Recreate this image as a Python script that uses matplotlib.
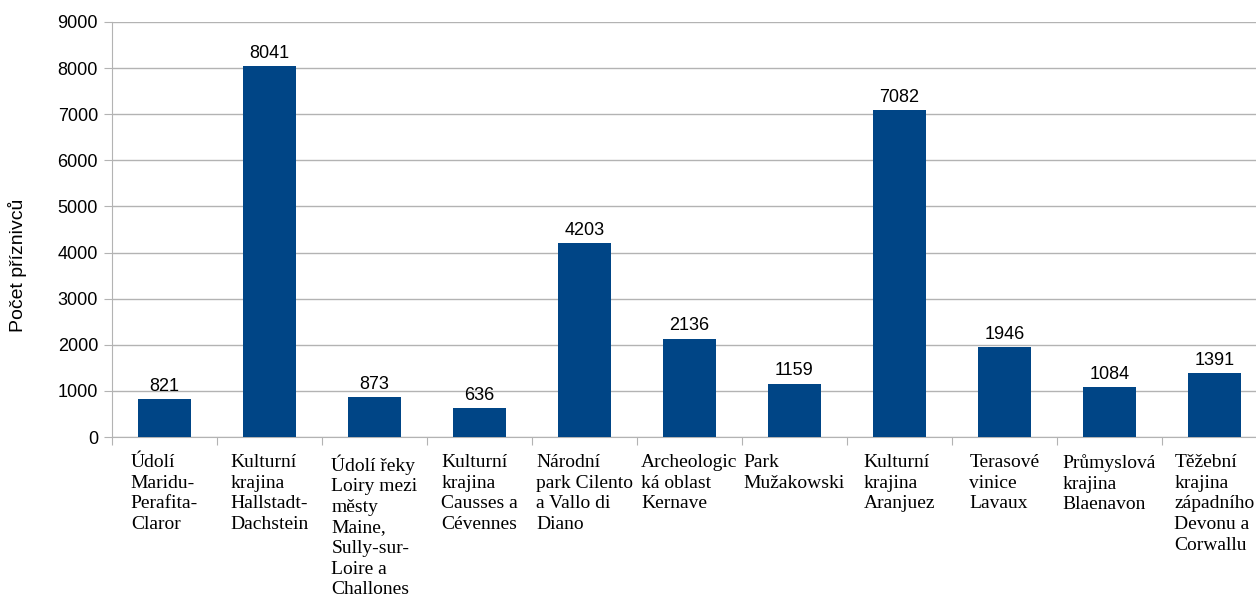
import matplotlib.pyplot as plt
import numpy as np

categories = [
    "Údolí\nMaridu-\nPerafita-\nClaror",
    "Kulturní\nkrajina\nHallstadt-\nDachstein",
    "Údolí řeky\nLoiry mezi\nměsty\nMaine,\nSully-sur-\nLoire a\nChallones",
    "Kulturní\nkrajina\nCausses a\nCévennes",
    "Národní\npark Cilento\na Vallo di\nDiano",
    "Archeologic\nká oblast\nKernave",
    "Park\nMužakowski",
    "Kulturní\nkrajina\nAranjuez",
    "Terasové\nvinice\nLavaux",
    "Průmyslová\nkrajina\nBlaenavon",
    "Těžební\nkrajina\nzápadního\nDevonu a\nCorwallu",
]
values = [821, 8041, 873, 636, 4203, 2136, 1159, 7082, 1946, 1084, 1391]
yticks = list(range(0, 9001, 1000))

grey = "#b3b3b3"
blue = "#004586"

W, H = 1256, 597
fig = plt.figure(figsize=(W / 100, H / 100), dpi=100)
# plot area runs a little past the right edge of the picture
ax = fig.add_axes([112 / W, 1 - 437 / H, (1267 - 112) / W, (437 - 22) / H])

x = np.arange(len(values))
ax.bar(x, values, width=0.5, color=blue, zorder=3)
for xi, v in zip(x, values):
    ax.text(xi, v + 90, str(v), ha="center", va="bottom",
            fontsize=13, family="Liberation Sans")

ax.set_xlim(-0.5, len(values) - 0.5)
ax.set_ylim(0, 9000)
ax.set_yticks(yticks)
ax.set_yticklabels([str(t) for t in yticks], family="Liberation Sans", fontsize=13)
ax.yaxis.grid(True, color=grey, linewidth=1, zorder=0)
ax.tick_params(axis="y", length=6, color=grey, pad=4)

# category boundaries as ticks, labels placed by hand
# (block centred in the category, lines left aligned)
ax.set_xticks(np.arange(len(values) + 1) - 0.5)
ax.set_xticklabels([])
ax.tick_params(axis="x", length=5.5, color=grey)
for xi, lab in zip(x, categories):
    ax.text(xi, -370, lab, ha="center", va="top", multialignment="left",
            fontsize=14, family="Liberation Serif", linespacing=1.28)

for side in ["top", "right"]:
    ax.spines[side].set_visible(False)
ax.spines["left"].set_color(grey)
ax.spines["bottom"].set_color(grey)

fig.text(18 / W, 1 - 265 / H, "Počet příznivců", rotation=90, ha="center", va="center",
         family="Liberation Sans", fontsize=14)

fig.savefig("out.png", dpi=100)
